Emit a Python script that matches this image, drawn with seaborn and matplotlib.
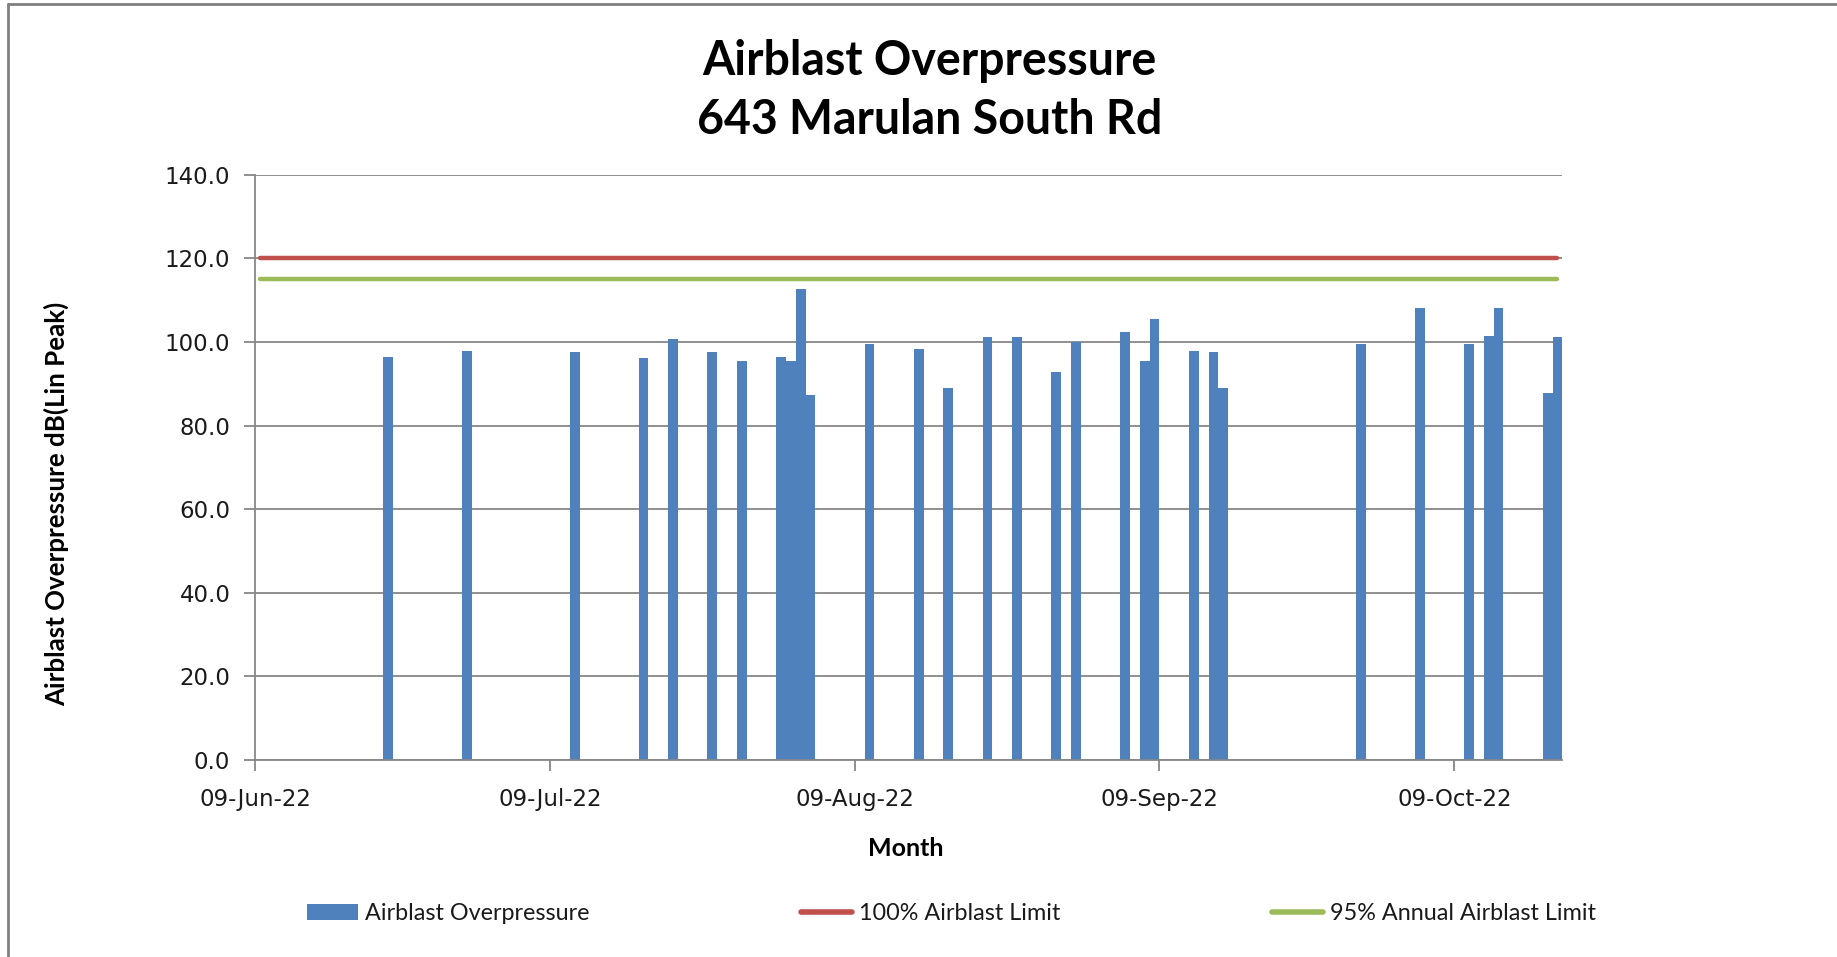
import numpy as np
import pandas as pd
import matplotlib
matplotlib.use("Agg")
import matplotlib.pyplot as plt
import matplotlib.dates as mdates
from matplotlib.patches import Patch
from matplotlib.lines import Line2D
import seaborn as sns

# ---------------- data ----------------
blast_dates = [
    "2022-06-22", "2022-06-30", "2022-07-11", "2022-07-18", "2022-07-21",
    "2022-07-25", "2022-07-28", "2022-08-01", "2022-08-02", "2022-08-03",
    "2022-08-04", "2022-08-10", "2022-08-15", "2022-08-18", "2022-08-22",
    "2022-08-25", "2022-08-29", "2022-08-31", "2022-09-05", "2022-09-07",
    "2022-09-08", "2022-09-12", "2022-09-14", "2022-09-15", "2022-09-29",
    "2022-10-05", "2022-10-10", "2022-10-12", "2022-10-13", "2022-10-18",
    "2022-10-19",
]
overpressure_db = [
    96.5, 97.9, 97.5, 96.2, 100.7,
    97.5, 95.4, 96.5, 95.4, 112.6,
    87.2, 99.5, 98.3, 88.9, 101.1,
    101.1, 92.8, 99.9, 102.3, 95.4,
    105.5, 97.9, 97.5, 88.9, 99.5,
    108.1, 99.5, 101.4, 108.1, 87.7,
    101.1,
]
limit_dates = ["2022-06-09", "2022-10-19"]
limit_100 = [120.0, 120.0]
limit_95 = [115.0, 115.0]

tick_dates = ["2022-06-09", "2022-07-09", "2022-08-09", "2022-09-09", "2022-10-09"]
axis_start = "2022-06-09"
axis_end = "2022-10-20"
y_ticks = [0, 20, 40, 60, 80, 100, 120, 140]

title_lines = ["Airblast Overpressure", "643 Marulan South Rd"]
y_label = "Airblast Overpressure dB(Lin Peak)"
x_label = "Month"
legend_labels = ["Airblast Overpressure", "100% Airblast Limit", "95% Annual Airblast Limit"]

BLUE = "#4F81BD"
RED = "#C0504D"
GREEN = "#9BBB59"
GRID = "#878787"
TEXT = "#1a1a1a"

# ---------------- style ----------------
sns.set_style("white")
plt.rcParams["font.family"] = ["Lato", "DejaVu Sans"]

fig = plt.figure(figsize=(18.37, 9.57), dpi=100)
ax = fig.add_axes([0.139, 0.2058, 0.7115, 0.6117])

half_day = 0.5  # Excel date axis centres each day's bar inside its day slot

df = pd.DataFrame({"date": pd.to_datetime(blast_dates), "db": overpressure_db})
df["x"] = mdates.date2num(df["date"]) + half_day
sns.barplot(data=df, x="x", y="db", native_scale=True, width=1.0,
            color=BLUE, saturation=1, linewidth=0, errorbar=None, ax=ax, zorder=2)

lim = pd.DataFrame({"date": pd.to_datetime(limit_dates), "l100": limit_100, "l95": limit_95})
lim["x"] = mdates.date2num(lim["date"]) + half_day
sns.lineplot(data=lim, x="x", y="l100", color=RED, lw=3.2, solid_capstyle="round", ax=ax, zorder=3)
sns.lineplot(data=lim, x="x", y="l95", color=GREEN, lw=3.2, solid_capstyle="round", ax=ax, zorder=3)

ax.set_xlim(mdates.date2num(pd.Timestamp(axis_start)), mdates.date2num(pd.Timestamp(axis_end)))
ax.set_ylim(y_ticks[0], y_ticks[-1])
ax.set_yticks(y_ticks)
ax.set_yticklabels([f"{v:.1f}" for v in y_ticks])
tick_ts = pd.to_datetime(tick_dates)
ax.set_xticks(mdates.date2num(tick_ts))
ax.set_xticklabels([t.strftime("%d-%b-%y") for t in tick_ts])
ax.set_xlabel("")
ax.set_ylabel("")

ax.set_axisbelow(True)
ax.yaxis.grid(True, color=GRID, lw=1.3)
ax.xaxis.grid(False)
for s in ["top", "right"]:
    ax.spines[s].set_visible(False)
for s in ["left", "bottom"]:
    ax.spines[s].set_color(GRID)
    ax.spines[s].set_linewidth(1.3)
ax.tick_params(axis="both", direction="out", length=8, width=1.3, color=GRID,
               labelsize=16.5, labelcolor=TEXT, bottom=True, left=True)
ax.tick_params(axis="y", pad=10)
ax.tick_params(axis="x", pad=12)
for lbl in ax.get_xticklabels() + ax.get_yticklabels():
    lbl.set_family(["DejaVu Sans"])

# titles and labels
fig.text(0.506, 0.936, title_lines[0], ha="center", va="center", fontsize=33.5,
         fontweight="bold", color="black")
fig.text(0.506, 0.875, title_lines[1], ha="center", va="center", fontsize=33.5,
         fontweight="bold", color="black")
fig.text(0.0305, 0.473, y_label, rotation=90, ha="center", va="center",
         fontsize=18.6, fontweight="bold", color="black")
fig.text(0.493, 0.113, x_label, ha="center", va="center", fontsize=18,
         fontweight="bold", color="black")

handles = [
    Patch(facecolor=BLUE, edgecolor="none"),
    Line2D([0], [0], color=RED, lw=4, solid_capstyle="round"),
    Line2D([0], [0], color=GREEN, lw=4, solid_capstyle="round"),
]
fig.legend(handles, legend_labels, loc="center", bbox_to_anchor=(0.518, 0.045), ncol=3,
           frameon=False, fontsize=16.8, handlelength=2.2, handletextpad=0.3,
           columnspacing=9.05, labelcolor=TEXT)

# chart-area border (top and left visible)
fig.add_artist(Line2D([0.0044, 1.0], [0.9958, 0.9958], transform=fig.transFigure,
                      color="#808080", lw=2))
fig.add_artist(Line2D([0.0044, 0.0044], [0.0, 0.9958], transform=fig.transFigure,
                      color="#808080", lw=2))

fig.savefig("out.png", dpi=100)
